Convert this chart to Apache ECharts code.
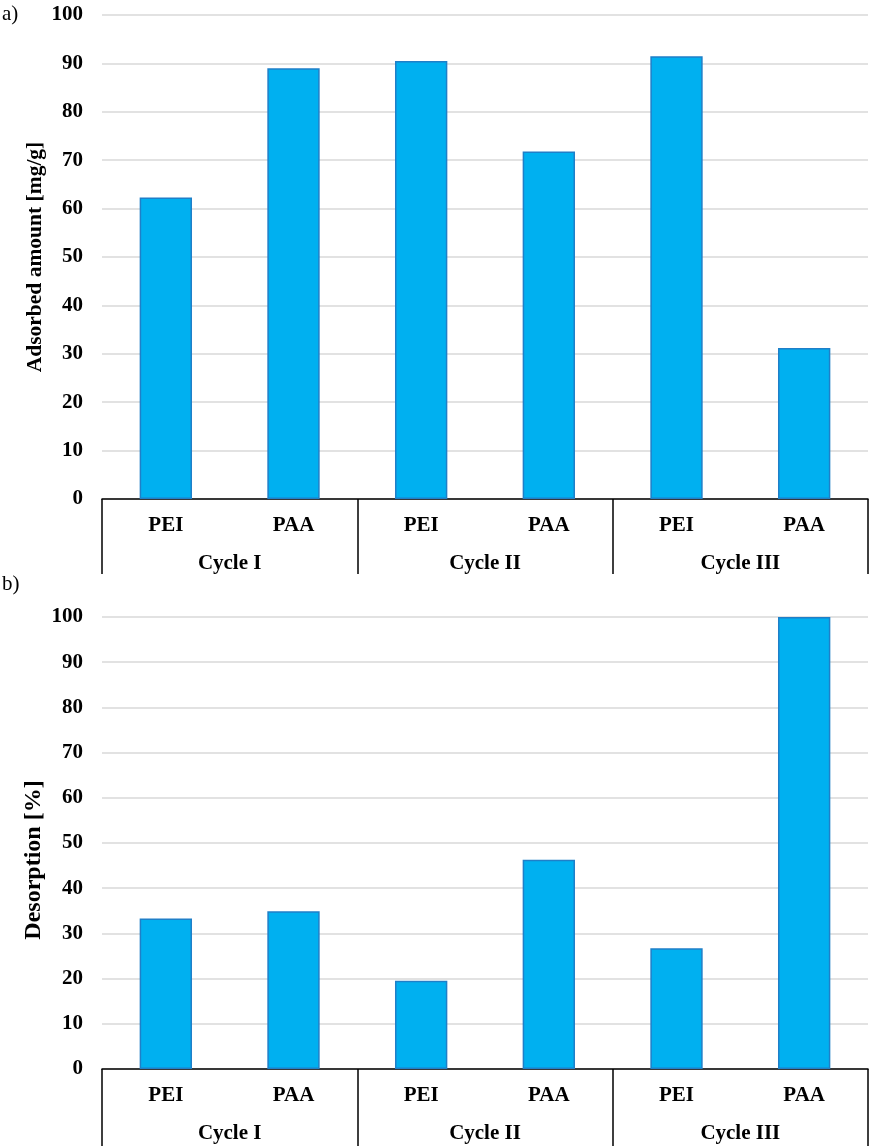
<!DOCTYPE html>
<html lang="en">
<head>
    <meta charset="utf-8">
    <script src="https://cdn.jsdelivr.net/npm/echarts@6/dist/echarts.min.js"></script>
    <title>adsorption_desorption</title>
</head>
<body>
<style>
    html, body, #main {
        width: 100%;
        height: 100%;
        margin: 0;
        background: #fff;
    }
</style>
<div id='main'></div>
<script>
    // sub categories and groups
    var polymers = ['PEI', 'PAA', 'PEI', 'PAA', 'PEI', 'PAA'];
    var cycles = ['Cycle I', 'Cycle II', 'Cycle III'];
    var yTicks = [0, 10, 20, 30, 40, 50, 60, 70, 80, 90, 100];

    // a) adsorbed amount [mg/g]
    var adsorbed = [62.3, 89.0, 90.5, 71.8, 91.5, 31.2];
    // b) desorption [%]
    var desorption = [33.3, 34.9, 19.5, 46.3, 26.7, 100];

    var font = '"Liberation Serif", "Times New Roman", serif';
    var chart = echarts.init(document.getElementById('main'));

    function innerAxis(grid) {
        return {
            type: 'category', gridIndex: grid, data: polymers, position: 'bottom',
            axisLine: {lineStyle: {color: '#000', width: 1.5}},
            axisTick: {show: false},
            axisLabel: {color: '#000', fontFamily: font, fontWeight: 'bold', fontSize: 21, margin: 16}
        };
    }

    function outerAxis(grid, tickLen) {
        return {
            type: 'category', gridIndex: grid, data: cycles, position: 'bottom',
            axisLine: {show: false},
            axisTick: {show: true, length: tickLen, lineStyle: {color: '#000', width: 1.5}},
            axisLabel: {color: '#000', fontFamily: font, fontWeight: 'bold', fontSize: 21, margin: 54}
        };
    }

    function valueAxis(grid, name, nameSize, namePad) {
        return {
            type: 'value', gridIndex: grid, min: yTicks[0], max: yTicks[yTicks.length - 1], interval: 10,
            name: name, nameLocation: 'middle', nameGap: 56, nameMoveOverlap: false,
            nameTextStyle: {color: '#000', fontFamily: font, fontWeight: 'bold', fontSize: nameSize, padding: namePad},
            axisLine: {show: false},
            axisTick: {show: false},
            axisLabel: {color: '#000', fontFamily: font, fontWeight: 'bold', fontSize: 21, margin: 19},
            splitLine: {lineStyle: {color: '#d9d9d9', width: 1.5}}
        };
    }

    var barStyle = {color: '#00b0f0', borderColor: '#1f7fc8', borderWidth: 1.5};

    var option = {
        animation: false,
        graphic: [
            {type: 'text', left: 2, top: 4, style: {text: 'a)', font: '21px ' + font, fill: '#000'}},
            {type: 'text', left: 2, top: 574, style: {text: 'b)', font: '21px ' + font, fill: '#000'}}
        ],
        grid: [
            {left: 102, right: 4, top: 15, height: 484},
            {left: 102, right: 4, top: 617, height: 452}
        ],
        xAxis: [innerAxis(0), outerAxis(0, 75), innerAxis(1), outerAxis(1, 80)],
        yAxis: [
            valueAxis(0, 'Adsorbed amount [mg/g]', 21.5, 0),
            valueAxis(1, 'Desorption [%]', 24, [0, 34, 0, 0])
        ],
        series: [
            {type: 'bar', xAxisIndex: 0, yAxisIndex: 0, data: adsorbed, barWidth: '41%', itemStyle: barStyle},
            {type: 'bar', xAxisIndex: 2, yAxisIndex: 1, data: desorption, barWidth: '41%', itemStyle: barStyle}
        ]
    };
    chart.setOption(option);

    window.onresize = chart.resize;
</script>
</body>
</html>
